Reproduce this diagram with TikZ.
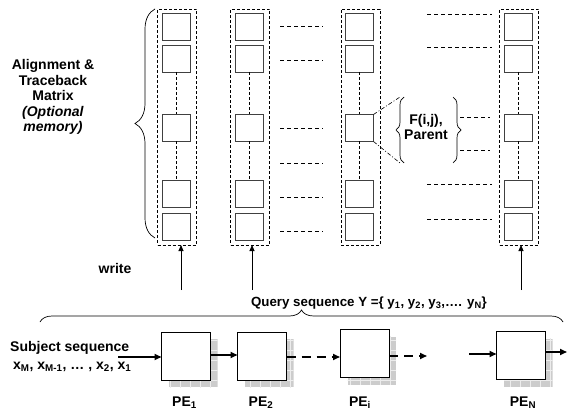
\documentclass[tikz,border=0pt]{standalone}
\usepackage{fontspec}
\setmainfont{Liberation Sans}
\usetikzlibrary{arrows.meta,decorations.pathreplacing,calc}
\begin{document}
\begin{tikzpicture}[x=1pt,y=-1pt,
  cell/.style={draw=black!75, line width=0.9pt, minimum width=28pt, minimum height=27pt, inner sep=0, outer sep=0},
  colbox/.style={draw, dash pattern=on 3pt off 2pt, line width=0.7pt, minimum width=39pt, minimum height=236pt, inner sep=0, outer sep=0},
  hdash/.style={dash pattern=on 4pt off 3pt, line width=0.6pt},
  vdash/.style={dash pattern=on 3pt off 2pt, line width=0.6pt},
  ddash/.style={dash pattern=on 4pt off 2pt on 1pt off 2pt, line width=0.6pt},
  pebox/.style={draw, fill=white, line width=0.9pt, minimum width=49pt, minimum height=48pt, inner sep=0, outer sep=0},
  lbl/.style={font=\bfseries\fontsize{14}{15.5}\selectfont, inner sep=0},
  uparrow/.style={-{Triangle[length=6pt,width=5pt]}, line width=0.9pt},
  flow/.style={-{Triangle[length=7pt,width=6pt]}, line width=1.6pt},
  brc/.style={decorate, decoration={brace, amplitude=#1}, line width=0.7pt},
  brc/.default=10,
]
\useasboundingbox (0,0) rectangle (567,414);

% columns of cells
\foreach \c/\x in {1/176,2/249,3/359.5,4/518}{
  \node[colbox] (col\c) at (\x+1,127) {};
  \foreach \r/\y in {1/26.5,2/58.5,3/128,4/193.5,5/226.5}{
    \node[cell] (c\c-\r) at (\x,\y) {};
  }
  \draw[vdash] (c\c-2.south) -- (c\c-3.north);
  \draw[vdash] (c\c-3.south) -- (c\c-4.north);
}

% horizontal dashed lines after column 2
\foreach \y in {26,60,128,163,197,231}{
  \draw[hdash] (280,\y) -- (323,\y);
}
% horizontal dashed lines before column 4
\foreach \y in {14,47,184,219}{
  \draw[hdash] (427,\y) -- (492,\y);
}
\foreach \y in {117,150}{
  \draw[hdash] (460,\y) -- (490,\y);
}

% left brace and label
\draw[brc=20] (155,238) -- (155,9);
\node[lbl, align=center] (almat) at (53,97) {Alignment \&\\Traceback\\Matrix\\\textit{(Optional}\\\textit{memory)}};

% F(i,j) braces
\coordinate (ftop) at (400,97);
\coordinate (fbot) at (400,163);
\draw[ddash] (c3-3.north east) -- (ftop);
\draw[ddash] (c3-3.south east) -- (fbot);
\draw[brc=8] (404,163) -- (404,97);
\draw[brc=8] (453,97) -- (453,163);
\node[lbl, align=center] (fij) at (426,127) {F(i,j),\\Parent};

% write arrows
\coordinate (w1) at (181,290);
\coordinate (w2) at (252,290);
\coordinate (w4) at (521,290);
\draw[uparrow] (w1) -- (w1 |- col1.south);
\draw[uparrow] (w2) -- (w2 |- col2.south);
\draw[uparrow] (w4) -- (w4 |- col4.south);
\node[lbl] (write) at (115,268) {write};

% query brace
\draw[brc=12] (40,322) -- (563,322);
\node[lbl, font=\bfseries\fontsize{13.3}{15}\selectfont] (query) at (369,303) {Query sequence Y =\{ y\textsubscript{1}, y\textsubscript{2}, y\textsubscript{3},…. y\textsubscript{N}\}};

% PE boxes with shadows
\foreach \n/\x/\y/\lx in {1/186/356/184.5,2/262/356/261,i/364.5/353.5/360,N/521/355.5/523}{
  \begin{scope}
    \clip ({\x-17},{\y-17}) rectangle ({\x+31.5},{\y+31});
    \fill[gray!40] ({\x-17},{\y-17}) rectangle ({\x+31.5},{\y+31});
    \draw[gray!15, line width=0.6pt, step=10pt] ({\x-20},{\y-20}) grid ({\x+40},{\y+40});
  \end{scope}
  \node[pebox] (pe\n) at (\x,\y) {};
  \node[lbl] (lab\n) at (\lx,403) {PE\textsubscript{\n}};
}

% flow arrows
\coordinate (sin) at (118,357);
\coordinate (iout) at (427,356);
\coordinate (nin) at (469,354);
\coordinate (nout) at (567,352);
\draw[flow] (sin) -- (sin -| pe1.west);
\draw[flow] (pe1.east |- 0,355) -- (pe2.west |- 0,355);
\draw[flow, dash pattern=on 9pt off 6pt] (pe2.east |- 0,357) -- (pei.west |- 0,357);
\draw[flow, dash pattern=on 9pt off 6pt] (pei.east |- iout) -- (iout);
\draw[flow] (nin) -- (nin -| peN.west);
\draw[flow] (peN.east |- nout) -- (nout);

% subject sequence label
\node[lbl, anchor=west] (subj) at (10,348) {Subject sequence};
\node[lbl, anchor=west] (xseq) at (13,367) {x\textsubscript{M}, x\textsubscript{M-1}, … , x\textsubscript{2}, x\textsubscript{1}};
\end{tikzpicture}
\end{document}
